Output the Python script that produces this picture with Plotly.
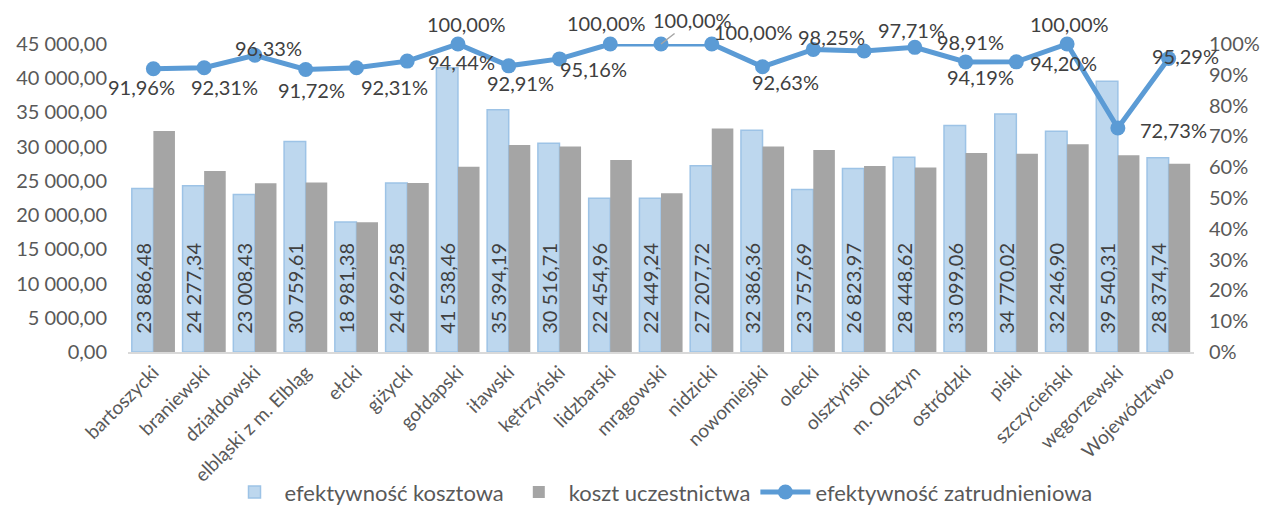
import plotly.graph_objects as go

categories = ["bartoszycki", "braniewski", "działdowski", "elbląski z m. Elbląg", "ełcki",
              "giżycki", "gołdapski", "iławski", "kętrzyński", "lidzbarski", "mrągowski",
              "nidzicki", "nowomiejski", "olecki", "olsztyński", "m. Olsztyn", "ostródzki",
              "piski", "szczycieński", "węgorzewski", "Województwo"]

efektywnosc_kosztowa = [23886.48, 24277.34, 23008.43, 30759.61, 18981.38, 24692.58, 41538.46,
                        35394.19, 30516.71, 22454.96, 22449.24, 27207.72, 32386.36, 23757.69,
                        26823.97, 28448.62, 33099.06, 34770.02, 32246.90, 39540.31, 28374.74]

koszt_uczestnictwa = [32300, 26460, 24660, 24750, 18960, 24700, 27050, 30260, 30020, 28070,
                      23200, 32650, 30020, 29530, 27190, 26950, 29090, 28950, 30360, 28750, 27490]

efektywnosc_zatrudnieniowa = [0.9196, 0.9231, 0.9633, 0.9172, 0.9231, 0.9444, 1.0, 0.9291, 0.9516,
                              1.0, 1.0, 1.0, 0.9263, 0.9825, 0.9771, 0.9891, 0.9419, 0.9420,
                              1.0, 0.7273, 0.9529]

# data-label offsets (pixels, relative to each point) -- styling only
label_dx = [-12, 20, 14, 6, 38, 54, 9, 12, 34, -4, 31, 42, 23, 18, 47, 56, 15, 47, 2, 56, 17]
label_dy = [18, 19, -7, 20, 19, 1, -20, 17, 10, -21, -24, -12, 15, -12, -21, -5, 15, 1, -20, 2, -3]
leader_idx = 10  # the label drawn with a leader line

FONT = "Lato"
GREY = "#595959"
DARK = "#404040"


def pct(v):
    return f"{v * 100:.2f}%".replace(".", ",")


fig = go.Figure()
fig.add_trace(go.Bar(
    x=categories, y=efektywnosc_kosztowa, name="efektywność kosztowa",
    marker=dict(color="#BDD7EE", line=dict(color="#9DC3E6", width=1.5)),
    texttemplate="\u2002\u00a0%{y:,.2f}", textposition="inside", insidetextanchor="start",
    textangle=-90, textfont=dict(family=FONT, size=20, color=DARK),
))
fig.add_trace(go.Bar(
    x=categories, y=koszt_uczestnictwa, name="koszt uczestnictwa",
    marker=dict(color="#A5A5A5", line=dict(width=0)),
))
fig.add_trace(go.Scatter(
    x=categories, y=efektywnosc_zatrudnieniowa, name="efektywność zatrudnieniowa",
    yaxis="y2", mode="lines+markers",
    line=dict(color="#5B9BD5", width=5),
    marker=dict(color="#5B9BD5", size=15),
    cliponaxis=False,
))

for i, (cat, v) in enumerate(zip(categories, efektywnosc_zatrudnieniowa)):
    if i == leader_idx:
        fig.add_annotation(
            x=cat, y=v, xref="x", yref="y2", text=pct(v),
            showarrow=True, arrowhead=0, arrowcolor="#A6A6A6", arrowwidth=1.5,
            ax=label_dx[i], ay=label_dy[i], standoff=0,
            font=dict(family=FONT, size=20, color=DARK),
        )
    else:
        fig.add_annotation(
            x=cat, y=v, xref="x", yref="y2", text=pct(v), showarrow=False,
            xshift=label_dx[i], yshift=-label_dy[i],
            font=dict(family=FONT, size=20, color=DARK),
        )

fig.update_layout(
    width=1267, height=508,
    separators=", ",
    plot_bgcolor="white", paper_bgcolor="white",
    font=dict(family=FONT, color=GREY, size=20),
    margin=dict(l=120, r=81, t=36, b=164, autoexpand=False),
    barmode="group", bargap=0.15, bargroupgap=0,
    uniformtext=dict(minsize=19, mode="show"),
    xaxis=dict(tickangle=-45, tickfont=dict(size=19, color=GREY), automargin=False,
               range=[-0.5, len(categories) - 0.5],
               showline=True, linecolor="#D9D9D9", linewidth=1.5, ticks=""),
    yaxis=dict(range=[0, 45000], dtick=5000, tickformat=",.2f", showgrid=False,
               zeroline=False, tickfont=dict(size=20, color=GREY), automargin=False,
               ticklabelstandoff=20),
    yaxis2=dict(range=[0, 1], dtick=0.1, tickformat=".0%", overlaying="y", side="right",
                showgrid=False, zeroline=False, tickfont=dict(size=20, color=GREY),
                automargin=False, ticklabelstandoff=14),
    legend=dict(orientation="h", x=0.5, xanchor="center", y=-0.455, yanchor="middle",
                font=dict(size=22, color=GREY), itemwidth=50, traceorder="normal"),
)

fig.write_html("out.html")
